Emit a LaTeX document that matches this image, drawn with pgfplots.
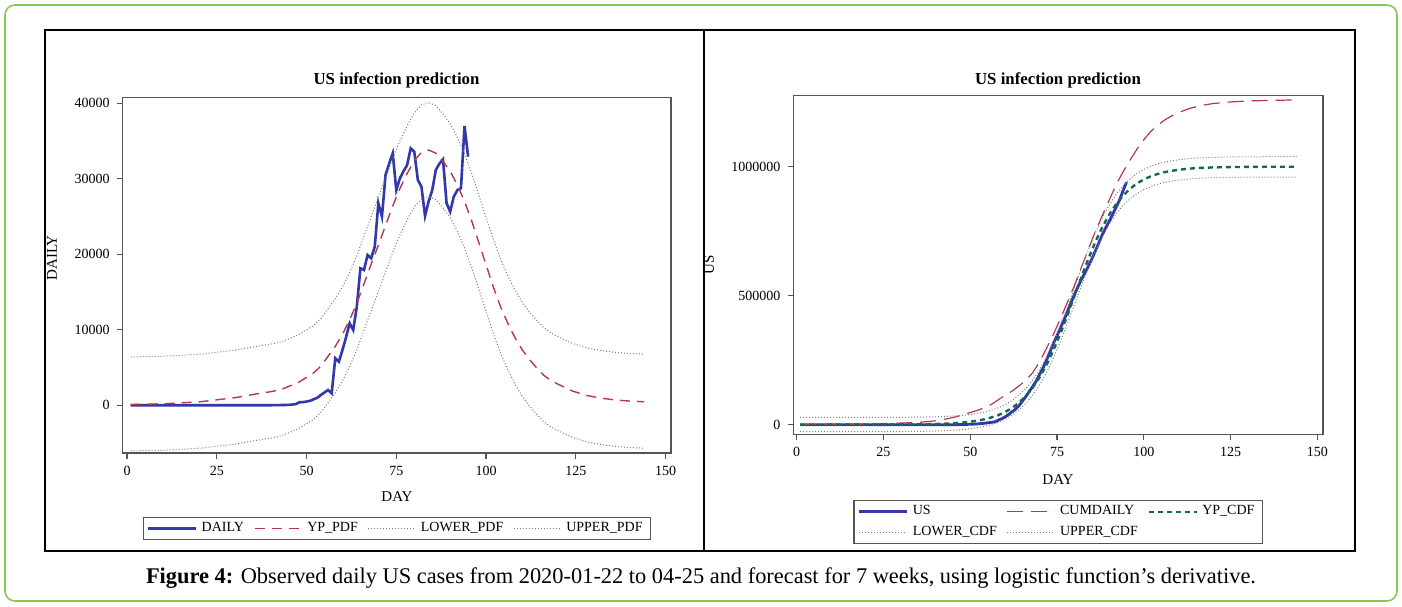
\documentclass[border=0pt]{standalone}
\usepackage{fontspec}
\setmainfont{Liberation Serif}
\usepackage{pgfplots}
\usepackage{pgfplotstable}
\pgfplotsset{compat=1.18}

\definecolor{sasblue}{RGB}{50,55,170}
\definecolor{sasred}{RGB}{178,58,80}
\definecolor{sasgreen}{RGB}{20,105,85}
\definecolor{dotgray}{RGB}{125,125,125}
\definecolor{boxgreen}{RGB}{140,200,80}
\definecolor{axisgray}{RGB}{85,85,85}

% observed daily cases, day 1 = 2020-01-22
\pgfplotstableread{
day daily
1 1
2 0
3 1
4 0
5 3
6 0
7 0
8 1
9 0
10 1
11 0
12 1
13 1
14 0
15 0
16 0
17 0
18 0
19 0
20 0
21 0
22 1
23 0
24 0
25 0
26 0
27 0
28 0
29 0
30 0
31 0
32 0
33 0
34 0
35 1
36 0
37 3
38 1
39 10
40 6
41 20
42 18
43 35
44 40
45 60
46 100
47 150
48 400
49 420
50 500
51 600
52 800
53 1000
54 1364
55 1700
56 2026
57 1589
58 6225
59 5775
60 7325
61 9000
62 10861
63 9974
64 13060
65 18146
66 17920
67 19907
68 19470
69 21007
70 26755
71 24980
72 30503
73 32000
74 33377
75 28517
76 30066
77 31000
78 31800
79 34040
80 33590
81 29840
82 28955
83 25073
84 27000
85 28500
86 31166
87 32000
88 32583
89 26755
90 25650
91 27630
92 28500
93 28740
94 36993
95 32930
}\dailytab

% fitted derivative and its bounds
\pgfplotstableread{
day yp lower upper
1 100 -6050 6400
10 200 -5950 6500
20 450 -5700 6750
30 1000 -5150 7300
36 1500 -4650 7800
40 1800 -4350 8100
43 2100 -4050 8400
46 2700 -3450 9000
48 3100 -3050 9400
50 3700 -2450 10000
52 4300 -1850 10600
54 5200 -950 11500
56 6500 350 12800
58 7800 1650 14100
60 9400 3250 15700
62 11300 5150 17600
64 13500 7350 19800
66 16100 9950 22400
68 18700 12550 25000
70 21200 15050 27500
72 23800 17650 30100
74 26400 20250 32700
76 28700 22550 35000
78 30700 24550 37000
80 32400 26250 38700
82 33500 27350 39800
84 33800 27650 40100
86 33400 27250 39700
88 32300 26150 38600
90 31000 24850 37300
92 29200 23050 35500
94 27000 20850 33300
96 24400 18250 30700
98 21500 15350 27800
100 18600 12450 24900
102 15700 9550 22000
104 13100 6950 19400
106 10900 4750 17200
108 9000 2850 15300
110 7400 1250 13700
112 6100 -50 12400
114 5000 -1150 11300
116 4000 -2150 10300
118 3300 -2850 9600
120 2800 -3350 9100
124 1900 -4250 8200
128 1300 -4850 7600
132 950 -5200 7250
136 700 -5450 7000
140 560 -5590 6860
144 470 -5680 6770
}\pdftab

% observed cumulative cases
\pgfplotstableread{
day us
1 1
20 10
38 15
39 25
40 31
41 51
42 69
43 104
44 144
45 204
46 304
47 454
48 854
49 1274
50 1774
51 2374
52 3174
53 4174
54 5538
55 7238
56 9264
57 10853
58 17078
59 22853
60 30178
61 39178
62 50039
63 60013
64 73073
65 91219
66 109139
67 129046
68 148516
69 169523
70 196278
71 221258
72 251761
73 283761
74 317138
75 345655
76 375721
77 406721
78 438521
79 472561
80 505000
81 534500
82 563000
83 588000
84 614000
85 642000
86 673000
87 704000
88 736000
89 763000
90 788000
91 815000
92 843000
93 871000
94 907000
95 940000
}\cumtab

% cumulative of the fitted derivative
\pgfplotstableread{
day cum
1 300
10 700
20 2000
28 5400
35 9000
40 15000
43 22000
46 31000
50 47000
53 60000
56 78000
59 105000
62 130000
64 150000
66 172000
68 202000
70 245000
72 297000
74 352000
76 412000
78 475000
80 540000
82 610000
84 680000
86 748000
88 810000
90 870000
92 930000
94 980000
96 1025000
98 1068000
100 1105000
102 1137000
104 1161000
106 1181000
108 1197000
110 1210000
113 1225000
116 1236000
120 1245000
125 1251000
130 1255000
137 1257000
144 1259000
}\cumdailytab

% fitted cumulative and its bounds
\pgfplotstableread{
day yp lower upper
1 0 -27000 28000
20 136 -26900 28100
30 590 -26400 28600
36 1440 -25600 29500
40 2620 -24400 30650
43 4070 -23000 32100
46 6370 -20700 34400
49 9950 -17200 38100
52 15400 -11800 43600
55 23800 -3500 52100
58 36600 9100 65000
60 48800 21200 77300
62 64800 37000 93500
64 85500 57400 114400
66 111000 82600 140200
68 144000 115100 173600
70 184000 154600 214000
72 233000 203000 263600
74 290000 259200 321200
76 355000 323400 386900
78 425000 392500 457700
80 499000 465500 532500
82 572000 537600 606300
84 643000 607600 678100
86 708000 671800 743800
88 765000 728100 801400
90 814000 776400 851000
92 855000 816900 892400
94 888000 849500 925800
96 914000 875100 952100
98 935000 895900 973300
100 951000 911600 989500
102 963000 923500 1001600
104 972000 932400 1010700
106 979000 939300 1017800
108 984000 944200 1022800
110 988000 948200 1026900
113 992500 952600 1031400
116 995200 955300 1034100
120 997300 957300 1036300
125 998700 958700 1037700
130 999400 959400 1038400
137 999800 959800 1038800
144 1000000 960000 1039000
}\cdftab

\pgfplotsset{
  sasaxis/.style={
    scale only axis,
    axis line style={axisgray, line width=0.7pt},
    tick align=outside,
    xtick pos=bottom, ytick pos=left,
    major tick length=3pt,
    every tick/.style={axisgray, line width=0.6pt},
    tick label style={font=\fontsize{7}{8}\selectfont},
    /pgf/number format/fixed,
    /pgf/number format/assume math mode=true,
    /pgf/number format/1000 sep={},
    scaled y ticks=false,
    xtick={0,25,...,150},
    legend cell align=left,
    legend style={draw=axisgray, line width=0.6pt,
      font=\fontsize{7}{8}\selectfont,
      inner xsep=2pt, inner ysep=0.5pt,
      /tikz/every even column/.append style={column sep=3pt}},
    legend image code/.code={\draw[##1] (0pt,0pt) -- (24pt,0pt);},
  },
  dotline/.style={dotgray, line width=0.5pt, dash pattern=on 0.5pt off 1pt},
}

\begin{document}
\begin{tikzpicture}
\useasboundingbox (0,0) rectangle (701pt,-303pt);

\begin{scope}[x=0.5pt,y=-0.5pt]
  \draw[boxgreen, line width=0.8pt, rounded corners=5pt] (5,5) rectangle (1397,601);
  \draw[black, line width=1.1pt] (45,30) rectangle (1355,551);
  \draw[black, line width=1.1pt] (704,30) -- (704,551);
  \node[font=\bfseries\fontsize{8.4}{10}\selectfont] at (396.5,80) {US infection prediction};
  \node[font=\bfseries\fontsize{8.4}{10}\selectfont] at (1058,80) {US infection prediction};
  \node[font=\fontsize{7.5}{9}\selectfont] at (397,497) {DAY};
  \node[font=\fontsize{7.5}{9}\selectfont] at (1058,480) {DAY};
  \node[font=\fontsize{7.5}{9}\selectfont, rotate=90] at (52,258) {DAILY};
  \node[font=\fontsize{7.5}{9}\selectfont, rotate=90] at (709,265) {US};
  \node[font=\fontsize{11.2}{13}\selectfont] at (701,578)
    {\textbf{Figure 4:} Observed daily US cases from 2020-01-22 to 04-25 and forecast for 7 weeks, using logistic function’s derivative.};
\end{scope}

\begin{axis}[sasaxis,
  at={(61.35pt,-226.5pt)}, anchor=south west,
  width=274.15pt, height=177.65pt,
  xmin=-1.2, xmax=151.5, ymin=-6320, ymax=40740,
  ytick={0,10000,...,40000},
  legend columns=4,
  legend style={at={(0.5,-0.18)}, anchor=north},
]
\addplot[sasblue, line width=1.3pt] table[x=day, y=daily] {\dailytab};
\addlegendentry{DAILY}
\addplot[sasred, line width=0.7pt, dash pattern=on 5pt off 3.5pt] table[x=day, y=yp] {\pdftab};
\addlegendentry{YP\_PDF}
\addplot[dotline] table[x=day, y=lower] {\pdftab};
\addlegendentry{LOWER\_PDF}
\addplot[dotline] table[x=day, y=upper] {\pdftab};
\addlegendentry{UPPER\_PDF}
\end{axis}

\begin{axis}[sasaxis,
  at={(396.75pt,-217.15pt)}, anchor=south west,
  width=264.75pt, height=169.3pt,
  xmin=-0.92, xmax=151.6, ymin=-37200, ymax=1275200,
  ytick={0,500000,1000000},
  legend columns=3,
  legend style={at={(0.5,-0.194)}, anchor=north},
]
\addplot[sasblue, line width=1.4pt] table[x=day, y=us] {\cumtab};
\addlegendentry{US}
\addplot[sasred, line width=0.6pt, dash pattern=on 8pt off 4pt] table[x=day, y=cum] {\cumdailytab};
\addlegendentry{CUMDAILY}
\addplot[sasgreen, line width=1.2pt, dash pattern=on 2.5pt off 2pt] table[x=day, y=yp] {\cdftab};
\addlegendentry{YP\_CDF}
\addplot[dotline] table[x=day, y=lower] {\cdftab};
\addlegendentry{LOWER\_CDF}
\addplot[dotline] table[x=day, y=upper] {\cdftab};
\addlegendentry{UPPER\_CDF}
\end{axis}
\end{tikzpicture}
\end{document}
